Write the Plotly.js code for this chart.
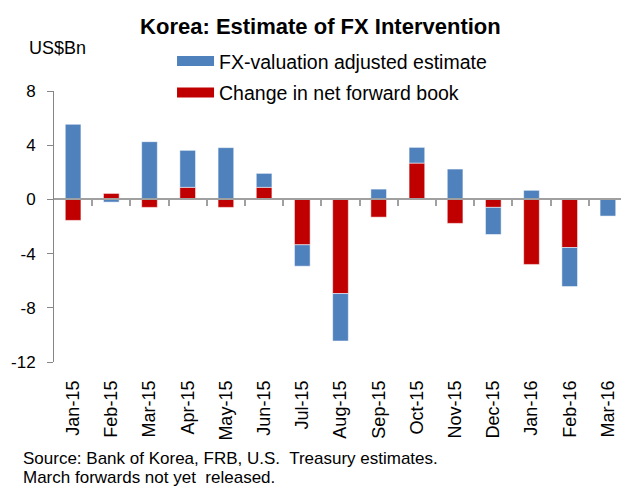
<!DOCTYPE html>
<html>
<head>
<meta charset="utf-8">
<script src="https://cdn.plot.ly/plotly-3.0.1.min.js"></script>
<style>
html,body{margin:0;padding:0;overflow:hidden;background:#fff;}
#chart{width:627px;height:489px;}
</style>
</head>
<body>
<div id="chart"></div>
<script>
// ---- data ----
const months = ["Jan-15","Feb-15","Mar-15","Apr-15","May-15","Jun-15","Jul-15","Aug-15","Sep-15","Oct-15","Nov-15","Dec-15","Jan-16","Feb-16","Mar-16"];
const fxAdjusted = [5.54,-0.2,4.26,2.73,3.82,1.03,-1.58,-3.5,0.76,1.16,2.24,-2.0,0.67,-2.88,-1.23];
const fwdBook = [-1.55,0.44,-0.59,0.89,-0.59,0.89,-3.35,-6.95,-1.31,2.68,-1.77,-0.59,-4.8,-3.55,null];
const yTicks = [8,4,0,-4,-8,-12];
const seriesNames = ["FX-valuation adjusted estimate","Change in net forward book"];
const colors = {blue:"#4F81BD", red:"#C00000"};

const FONT = '"Liberation Sans Narrow","Arial Narrow","Liberation Sans",Arial,sans-serif';
const boundaries = months.slice(1).map((_, i) => i + 0.5);

const traces = [
  {type:"bar", name:seriesNames[1], x:months, y:fwdBook, marker:{color:colors.red, line:{color:"rgba(255,255,255,0.5)", width:1}}, showlegend:false, hoverinfo:"x+y"},
  {type:"bar", name:seriesNames[0], x:months, y:fxAdjusted, marker:{color:colors.blue, line:{color:"rgba(255,255,255,0.5)", width:1}}, showlegend:false, hoverinfo:"x+y"},
  // legend-only entries (no marks) to get wide swatches
  {type:"scatter", mode:"lines", name:seriesNames[0], x:[null], y:[null], xaxis:"x2", line:{color:colors.blue, width:10}, legendgroup:"a"},
  {type:"scatter", mode:"lines", name:seriesNames[1], x:[null], y:[null], xaxis:"x2", line:{color:colors.red, width:10}, legendgroup:"b"}
];

const layout = {
  width:627, height:489,
  margin:{l:54, r:0, t:91, b:127.3},
  paper_bgcolor:"#fff", plot_bgcolor:"#fff",
  font:{family:FONT, size:16, color:"#000"},
  barmode:"relative",
  bargap:0.59,
  title:{text:"<b>Korea: Estimate of FX Intervention</b>", font:{family:FONT, size:22, color:"#000"}, x:0.511, xanchor:"center", y:0.947, yanchor:"middle"},
  xaxis:{type:"category", range:[-0.5,14.5], showline:false, ticks:"", showgrid:false, zeroline:false, tickangle:-90, ticklabelstandoff:14, tickfont:{family:FONT, size:18}},
  xaxis2:{overlaying:"x", anchor:"free", position:0.6, side:"bottom", range:[-0.5,14.5], tickmode:"array", tickvals:boundaries, ticks:"outside", ticklen:6, tickwidth:1.5, tickcolor:"#A0A0A0", showticklabels:false, showline:true, linecolor:"#A0A0A0", linewidth:2, showgrid:false, zeroline:false, fixedrange:true},
  yaxis:{range:[-12,8], tickmode:"array", tickvals:yTicks, ticktext:yTicks.map(String), ticks:"outside", ticklen:6, tickcolor:"#868686", showline:true, linecolor:"#868686", linewidth:1, showgrid:false, zeroline:false, ticklabelstandoff:8, tickfont:{family:FONT, size:17}},
  showlegend:true,
  legend:{x:0.206, xanchor:"left", y:1.181, yanchor:"top", orientation:"v", traceorder:"grouped", tracegroupgap:3, font:{family:FONT, size:19.5, color:"#000"}, bgcolor:"rgba(0,0,0,0)", itemwidth:37},
  annotations:[
    {text:"US$Bn", xref:"paper", yref:"paper", x:-0.047, y:1.159, xanchor:"left", yanchor:"middle", showarrow:false, font:{family:FONT, size:18, color:"#000"}},
    {text:"Source: Bank of Korea, FRB, U.S.  Treasury estimates.", xref:"paper", yref:"paper", x:-0.058, y:-0.356, xanchor:"left", yanchor:"middle", showarrow:false, font:{family:FONT, size:17, color:"#000"}},
    {text:"March forwards not yet  released.", xref:"paper", yref:"paper", x:-0.058, y:-0.426, xanchor:"left", yanchor:"middle", showarrow:false, font:{family:FONT, size:17, color:"#000"}}
  ]
};

Plotly.newPlot("chart", traces, layout, {displayModeBar:false, responsive:false});
</script>
</body>
</html>
